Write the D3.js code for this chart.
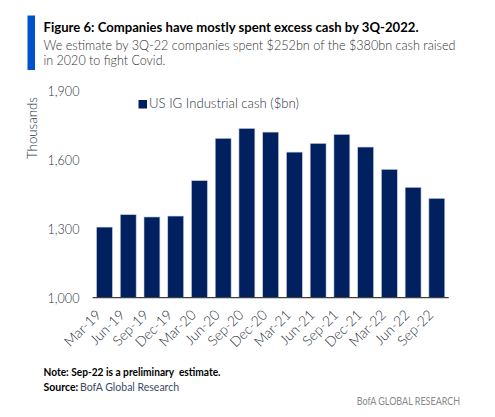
<!DOCTYPE html>
<html>
<head>
<meta charset="utf-8">
<script src="https://cdn.jsdelivr.net/npm/d3@7"></script>
<style>
  html, body { margin: 0; padding: 0; background: #fff; }
  svg { display: block; font-family: Lato, "Open Sans", sans-serif; }
</style>
</head>
<body>
<svg id="chart" width="495" height="417"></svg>
<script>
// ---- data ----
const categories = ["Mar-19","Jun-19","Sep-19","Dec-19","Mar-20","Jun-20","Sep-20","Dec-20",
                    "Mar-21","Jun-21","Sep-21","Dec-21","Mar-22","Jun-22","Sep-22"];
const cashValues = [1307, 1361, 1351, 1355, 1509, 1693, 1736, 1720,
                    1633, 1671, 1710, 1655, 1558, 1480, 1432];
const yTicks = [1000, 1300, 1600, 1900];
const seriesName = "US IG Industrial cash ($bn)";
const titleText = "Figure 6: Companies have mostly spent excess cash by 3Q-2022.";
const subtitleLines = ["We estimate by 3Q-22 companies spent $252bn of the $380bn cash raised",
                       "in 2020 to fight Covid."];

const svg = d3.select("#chart");
const navy = "#00205f";
const labelColor = "#2d3340";

function fit(sel, w) { sel.attr("textLength", w).attr("lengthAdjust", "spacingAndGlyphs"); return sel; }

// header
svg.append("rect").attr("x", 27.5).attr("y", 15.5).attr("width", 7.5).attr("height", 54.5).attr("fill", "#0052cc");
fit(svg.append("text").attr("x", 43.5).attr("y", 31.5).attr("font-size", 14).attr("font-weight", 700)
   .attr("fill", "#000").text(titleText), 375);
subtitleLines.forEach((t, i) => {
  fit(svg.append("text").attr("x", 43.5).attr("y", 49.5 + i * 15.5).attr("font-size", 13)
     .attr("font-weight", 300).attr("fill", "#333").text(t), i === 0 ? 412 : 122);
});

// scales
const x = d3.scaleBand().domain(categories).range([92.6, 448.7]).paddingInner(0.33).paddingOuter(0.165);
const y = d3.scaleLinear().domain([1000, 1900]).range([297.7, 90.7]);

// bars
svg.append("g").selectAll("rect").data(cashValues).join("rect")
  .attr("x", (d, i) => x(categories[i]))
  .attr("width", x.bandwidth())
  .attr("y", d => y(d))
  .attr("height", d => y(1000) - y(d))
  .attr("fill", navy)
  .attr("stroke", "#c9d0dd").attr("stroke-width", 0.6);

// y axis (labels only)
const yAxis = d3.axisLeft(y).tickValues(yTicks).tickSize(0).tickPadding(0).tickFormat(d3.format(","));
const gy = svg.append("g").attr("transform", "translate(79.5,0)").call(yAxis);
gy.select(".domain").remove();
gy.selectAll("text").attr("font-size", 14.5).attr("font-weight", 300).attr("fill", labelColor)
  .attr("font-family", "Lato, sans-serif")
  .attr("dy", "0.36em").each(function() { fit(d3.select(this), 32); });

// x axis
const xAxis = d3.axisBottom(x).tickSize(0).tickPadding(0);
const gx = svg.append("g").attr("transform", "translate(0,297.7)").call(xAxis);
gx.select(".domain").attr("stroke", "#404040").attr("stroke-width", 1.2).attr("d", "M92.6,0H448.7");
gx.selectAll("text")
  .attr("font-size", 14).attr("font-weight", 300).attr("fill", labelColor).attr("font-family", "Lato, sans-serif")
  .attr("text-anchor", "end").attr("dy", 0).attr("y", 0)
  .attr("transform", "translate(-2.5,18) rotate(-45)");

// y title
svg.append("text").attr("transform", "translate(37,128) rotate(-90)").attr("text-anchor", "middle")
  .attr("font-size", 14.5).attr("font-weight", 300).attr("fill", labelColor).text("Thousands")
  .call(s => fit(s, 62));

// legend
svg.append("rect").attr("x", 138.5).attr("y", 100).attr("width", 8.5).attr("height", 8.5).attr("fill", navy);
fit(svg.append("text").attr("x", 149).attr("y", 108.2).attr("font-size", 14.5).attr("font-weight", 300)
   .attr("fill", labelColor).text(seriesName), 150);

// footer
fit(svg.append("text").attr("x", 43.5).attr("y", 375.5).attr("font-size", 10.5).attr("font-weight", 700)
   .attr("fill", "#000").text("Note: Sep-22 is a preliminary  estimate.").attr("xml:space", "preserve"), 177);
const src = svg.append("text").attr("x", 43.5).attr("y", 390.5).attr("font-size", 10.5).attr("fill", "#000");
src.append("tspan").attr("font-weight", 700).text("Source:");
src.append("tspan").attr("x", 80).attr("fill", "#3a4a6a").text("BofA Global Research");
fit(svg.append("text").attr("x", 356.7).attr("y", 405.3).attr("font-size", 11).attr("fill", "#8a8a8a")
   .text("BofA GLOBAL RESEARCH"), 103.5);
</script>
</body>
</html>
